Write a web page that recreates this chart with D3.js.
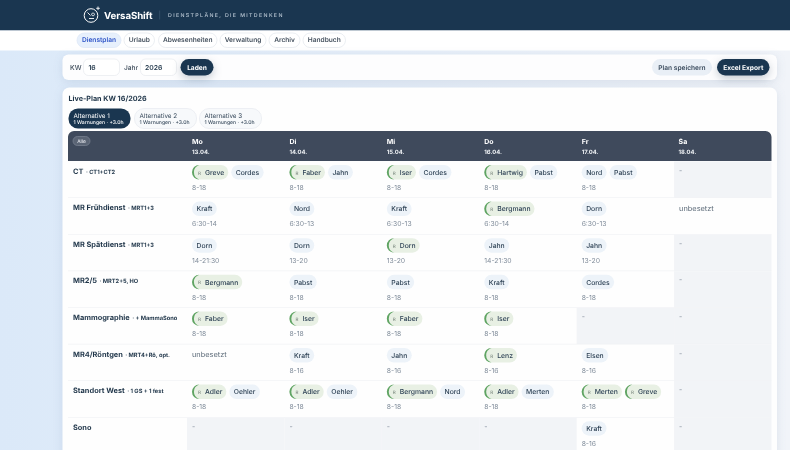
<!DOCTYPE html>
<html>
<head>
<meta charset="utf-8">
<title>VersaShift Dienstplan</title>
<script src="https://cdn.jsdelivr.net/npm/d3@7"></script>
<style>
  html, body { margin: 0; padding: 0; overflow: hidden; background: #eef3f9; }
  svg { display: block; font-family: Inter, "Noto Sans", sans-serif; text-rendering: geometricPrecision; filter: blur(0.3px); }
</style>
</head>
<body>
<div id="chart"></div>
<script>
// navigation and tabs
const navItems = ["Dienstplan", "Urlaub", "Abwesenheiten", "Verwaltung", "Archiv", "Handbuch"];
const altTabs = ["Alternative 1", "Alternative 2", "Alternative 3"];
const altInfo = "1 Warnungen · +3.0h";

// plan table
const days = ["Mo", "Di", "Mi", "Do", "Fr", "Sa"];
const dates = ["13.04.", "14.04.", "15.04.", "16.04.", "17.04.", "18.04."];
const shifts = ["CT", "MR Frühdienst", "MR Spätdienst", "MR2/5", "Mammographie", "MR4/Röntgen", "Standort West", "Sono"];
const shiftNotes = ["CT1+CT2", "MRT1+3", "MRT1+3", "MRT2+5, HO", "+ MammaSono", "MRT4+Rö, opt.", "1 GS + 1 fest", ""];

// "R " in front of a name = green marked chip, "-" = closed cell
const staff = [
  [["R Greve", "Cordes"], ["R Faber", "Jahn"], ["R Iser", "Cordes"], ["R Hartwig", "Pabst"], ["Nord", "Pabst"], "-"],
  [["Kraft"], ["Nord"], ["Kraft"], ["R Bergmann"], ["Dorn"], "unbesetzt"],
  [["Dorn"], ["Dorn"], ["R Dorn"], ["Jahn"], ["Jahn"], "-"],
  [["R Bergmann"], ["Pabst"], ["Pabst"], ["Kraft"], ["Cordes"], "-"],
  [["R Faber"], ["R Iser"], ["R Faber"], ["R Iser"], "-", "-"],
  ["unbesetzt", ["Kraft"], ["Jahn"], ["R Lenz"], ["Elsen"], "-"],
  [["R Adler", "Oehler"], ["R Adler", "Oehler"], ["R Bergmann", "Nord"], ["R Adler", "Merten"], ["R Merten", "R Greve"], "-"],
  ["-", "-", "-", "-", ["Kraft"], "-"]
];
const times = [
  ["8-18", "8-18", "8-18", "8-18", "8-18", ""],
  ["6:30-14", "6:30-13", "6:30-13", "6:30-14", "6:30-13", ""],
  ["14-21:30", "13-20", "13-20", "14-21:30", "13-20", ""],
  ["8-18", "8-18", "8-18", "8-18", "8-18", ""],
  ["8-18", "8-18", "8-18", "8-18", "", ""],
  ["", "8-16", "8-16", "8-16", "8-16", ""],
  ["8-18", "8-18", "8-18", "8-18", "8-18", ""],
  ["", "", "", "", "8-16", ""]
];

const width = 790, height = 450;
const navy = "#1a3650", slate = "#3f4a5c", ink = "#1f3549";

const svg = d3.select("#chart").append("svg").attr("width", width).attr("height", height);

const defs = svg.append("defs");
const bg = defs.append("linearGradient").attr("id", "bg");
bg.append("stop").attr("offset", "0%").attr("stop-color", "#dbe9f9");
bg.append("stop").attr("offset", "100%").attr("stop-color", "#f1f4f9");

function box(parent, x, y, w, h, r, fill, stroke) {
  return parent.append("rect").attr("x", x).attr("y", y).attr("width", w).attr("height", h)
    .attr("rx", r).attr("fill", fill).attr("stroke", stroke || "none").attr("stroke-width", stroke ? 0.7 : 0);
}
function label(parent, x, y, str, size, weight, fill, anchor) {
  return parent.append("text").attr("x", x).attr("y", y).text(str)
    .attr("font-size", size).attr("font-weight", weight).attr("fill", fill)
    .attr("text-anchor", anchor || "start");
}

// page background
box(svg, 0, 0, width, height, 0, "url(#bg)");

// top bar
box(svg, 0, 0, width, 30.5, 0, navy);
const logo = svg.append("g").attr("fill", "none").attr("stroke", "#fff");
logo.append("circle").attr("cx", 91).attr("cy", 15.5).attr("r", 6.8).attr("stroke-width", 1);
logo.append("path").attr("d", "M87.5 12.5l3 3M89 18.5h5M93 13a1.4 1.4 0 1 0 .1 0M98 6.5v3.6M96.2 8.3h3.6").attr("stroke-width", 0.9);
label(svg, 104, 19, "VersaShift", 9.7, 700, "#fff").attr("letter-spacing", -0.1);
box(svg, 159.5, 10.5, 0.6, 9, 0, "#3e5a74");
label(svg, 168, 17.3, "DIENSTPLÄNE, DIE MITDENKEN", 5.3, 500, "#b9c7d4").attr("letter-spacing", 1.33);

// nav bar
box(svg, 0, 30.5, width, 20, 0, "#fff");
const navX = d3.scaleOrdinal().domain(navItems).range([77, 124, 158.5, 220, 269, 303]);
const navW = d3.scaleOrdinal().domain(navItems).range([44, 30.5, 58.5, 46, 31, 42.5]);
navItems.forEach((n, i) => {
  box(svg, navX(n), 33, navW(n), 14.5, 7.25, i == 0 ? "#e7f0fc" : "#fff", i == 0 ? "#dce7f7" : "#e3e7ec");
  label(svg, navX(n) + navW(n) / 2, 42.3, n, 6.6, 600, i == 0 ? "#2f55c8" : "#46525f", "middle");
});

// toolbar card
const shadow = "drop-shadow(0 2px 5px rgba(40,70,110,0.10))";
box(svg, 62.5, 54.5, 714.5, 25.5, 6, "#fdfdfe").style("filter", shadow);
label(svg, 70, 69.8, "KW", 6.8, 500, "#3f4d5c");
box(svg, 83.5, 59, 36, 16.5, 5, "#fff", "#e6e9ee");
label(svg, 88.5, 69.8, "16", 6.8, 600, ink);
label(svg, 124, 69.8, "Jahr", 6.6, 500, "#3f4d5c");
box(svg, 140.5, 59, 36, 16.5, 5, "#fff", "#e6e9ee");
label(svg, 145, 69.8, "2026", 6.8, 600, ink);
box(svg, 180.5, 59, 33, 16.5, 8.25, navy).style("filter", "drop-shadow(0 3px 4px rgba(26,54,80,0.25))");
label(svg, 197, 69.8, "Laden", 6.6, 700, "#fff", "middle");
box(svg, 652, 59, 60, 16.5, 8.25, "#e9eff6");
label(svg, 682, 69.8, "Plan speichern", 6.6, 600, "#3b4c5e", "middle");
box(svg, 717, 59, 52.5, 16.5, 8.25, navy).style("filter", "drop-shadow(0 3px 4px rgba(26,54,80,0.25))");
label(svg, 743.25, 69.8, "Excel Export", 6.6, 700, "#fff", "middle");

// main card
box(svg, 62.5, 87.5, 714.5, 400, 7, "#fefefe").style("filter", shadow);
label(svg, 68.5, 100.5, "Live-Plan KW 16/2026", 7.2, 700, ink);

// alternative tabs
const tabX = d3.scaleOrdinal().domain(altTabs).range([68.5, 134.5, 199.5]);
altTabs.forEach((t, i) => {
  box(svg, tabX(t), 108.5, 62, 20, 9.5, i == 0 ? navy : "#f7f9fb", i == 0 ? null : "#e6eaef");
  label(svg, tabX(t) + 5, 117.5, t, 6.3, 400, i == 0 ? "#fff" : "#3a4c5e");
  label(svg, tabX(t) + 5, 124.3, altInfo, 5.1, 500, i == 0 ? "#fff" : "#3a4c5e");
});

// table scales
const x = d3.scaleBand().domain(days).range([187, 771.5]);
const y = d3.scaleBand().domain(shifts).range([161, 161 + 36.6 * shifts.length]);
const pad = 5;

// table head with rounded top corners
svg.append("path").attr("fill", slate)
  .attr("d", "M68 161V137a6 6 0 0 1 6-6H765.5a6 6 0 0 1 6 6V161Z");
box(svg, 73, 136.5, 17, 9, 4.5, "#5a6474", "#7b8494");
label(svg, 81.5, 142.8, "Alle", 4.8, 500, "#e6e9ee", "middle");
days.forEach((d, i) => {
  label(svg, x(d) + pad + (i == 5 ? -0.5 : 0), 143.5, d, 7, 700, "#fff");
  label(svg, x(d) + pad + (i == 5 ? -0.5 : 0), 153.8, dates[i], 5.9, 700, "#eef1f4");
});

// table body
const chipH = 14.5;
function drawChip(g, cx, top, name) {
  const marked = name.startsWith("R ");
  const text = marked ? name.slice(2) : name;
  const chip = g.append("g");
  const r = chipH / 2;
  const bgRect = box(chip, cx, top, 10, chipH, r, marked ? "#e8f0e4" : "#edf3f9");
  const tx = cx + (marked ? 13 : 4.5);
  const t = label(chip, tx, top + 9.8, text, 6.8, 500, "#2f4356");
  const w = t.node().getComputedTextLength() + (marked ? 17 : 9);
  bgRect.attr("width", w);
  if (marked) {
    label(chip, cx + 6, top + 9.5, "R", 4.6, 500, "#7d8a80");
    chip.append("path").attr("fill", "#5fa463")
      .attr("d", `M${cx + r} ${top}A${r} ${r} 0 0 0 ${cx + r} ${top + chipH}A${r + 1} ${r + 0.5} 0 0 1 ${cx + r} ${top}Z`);
  }
  return cx + w + 3;
}

shifts.forEach((s, row) => {
  const top = y(s);
  const g = svg.append("g");
  days.forEach((d, col) => {
    const cell = staff[row][col];
    const cx = x(d) + pad;
    if (cell === "-") {
      box(g, x(d), top + 0.4, x.bandwidth(), y.bandwidth() - 0.4, 0, "#f2f4f7");
      label(g, cx, top + 11.5, "-", 7, 400, "#7d8896");
    } else if (cell === "unbesetzt") {
      label(g, cx, top + 13, cell, 7.4, 400, "#5d6b79");
    } else {
      let nx = cx;
      cell.forEach(name => { nx = drawChip(g, nx, top + 4, name); });
      label(g, cx, top + 28.8, times[row][col], 6.8, 400, "#818d9b");
    }
  });
  const name = label(g, 73, top + 12.5, s, 7.4, 700, ink);
  if (shiftNotes[row]) {
    const nameW = name.node().getComputedTextLength();
    label(g, 73 + nameW + 2.5, top + 12.5, "· " + shiftNotes[row], 5.7, 700, ink);
  }
  box(g, 68, top + y.bandwidth() - 0.2, 703.5, 0.6, 0, "#eef0f3");
});
</script>
</body>
</html>
